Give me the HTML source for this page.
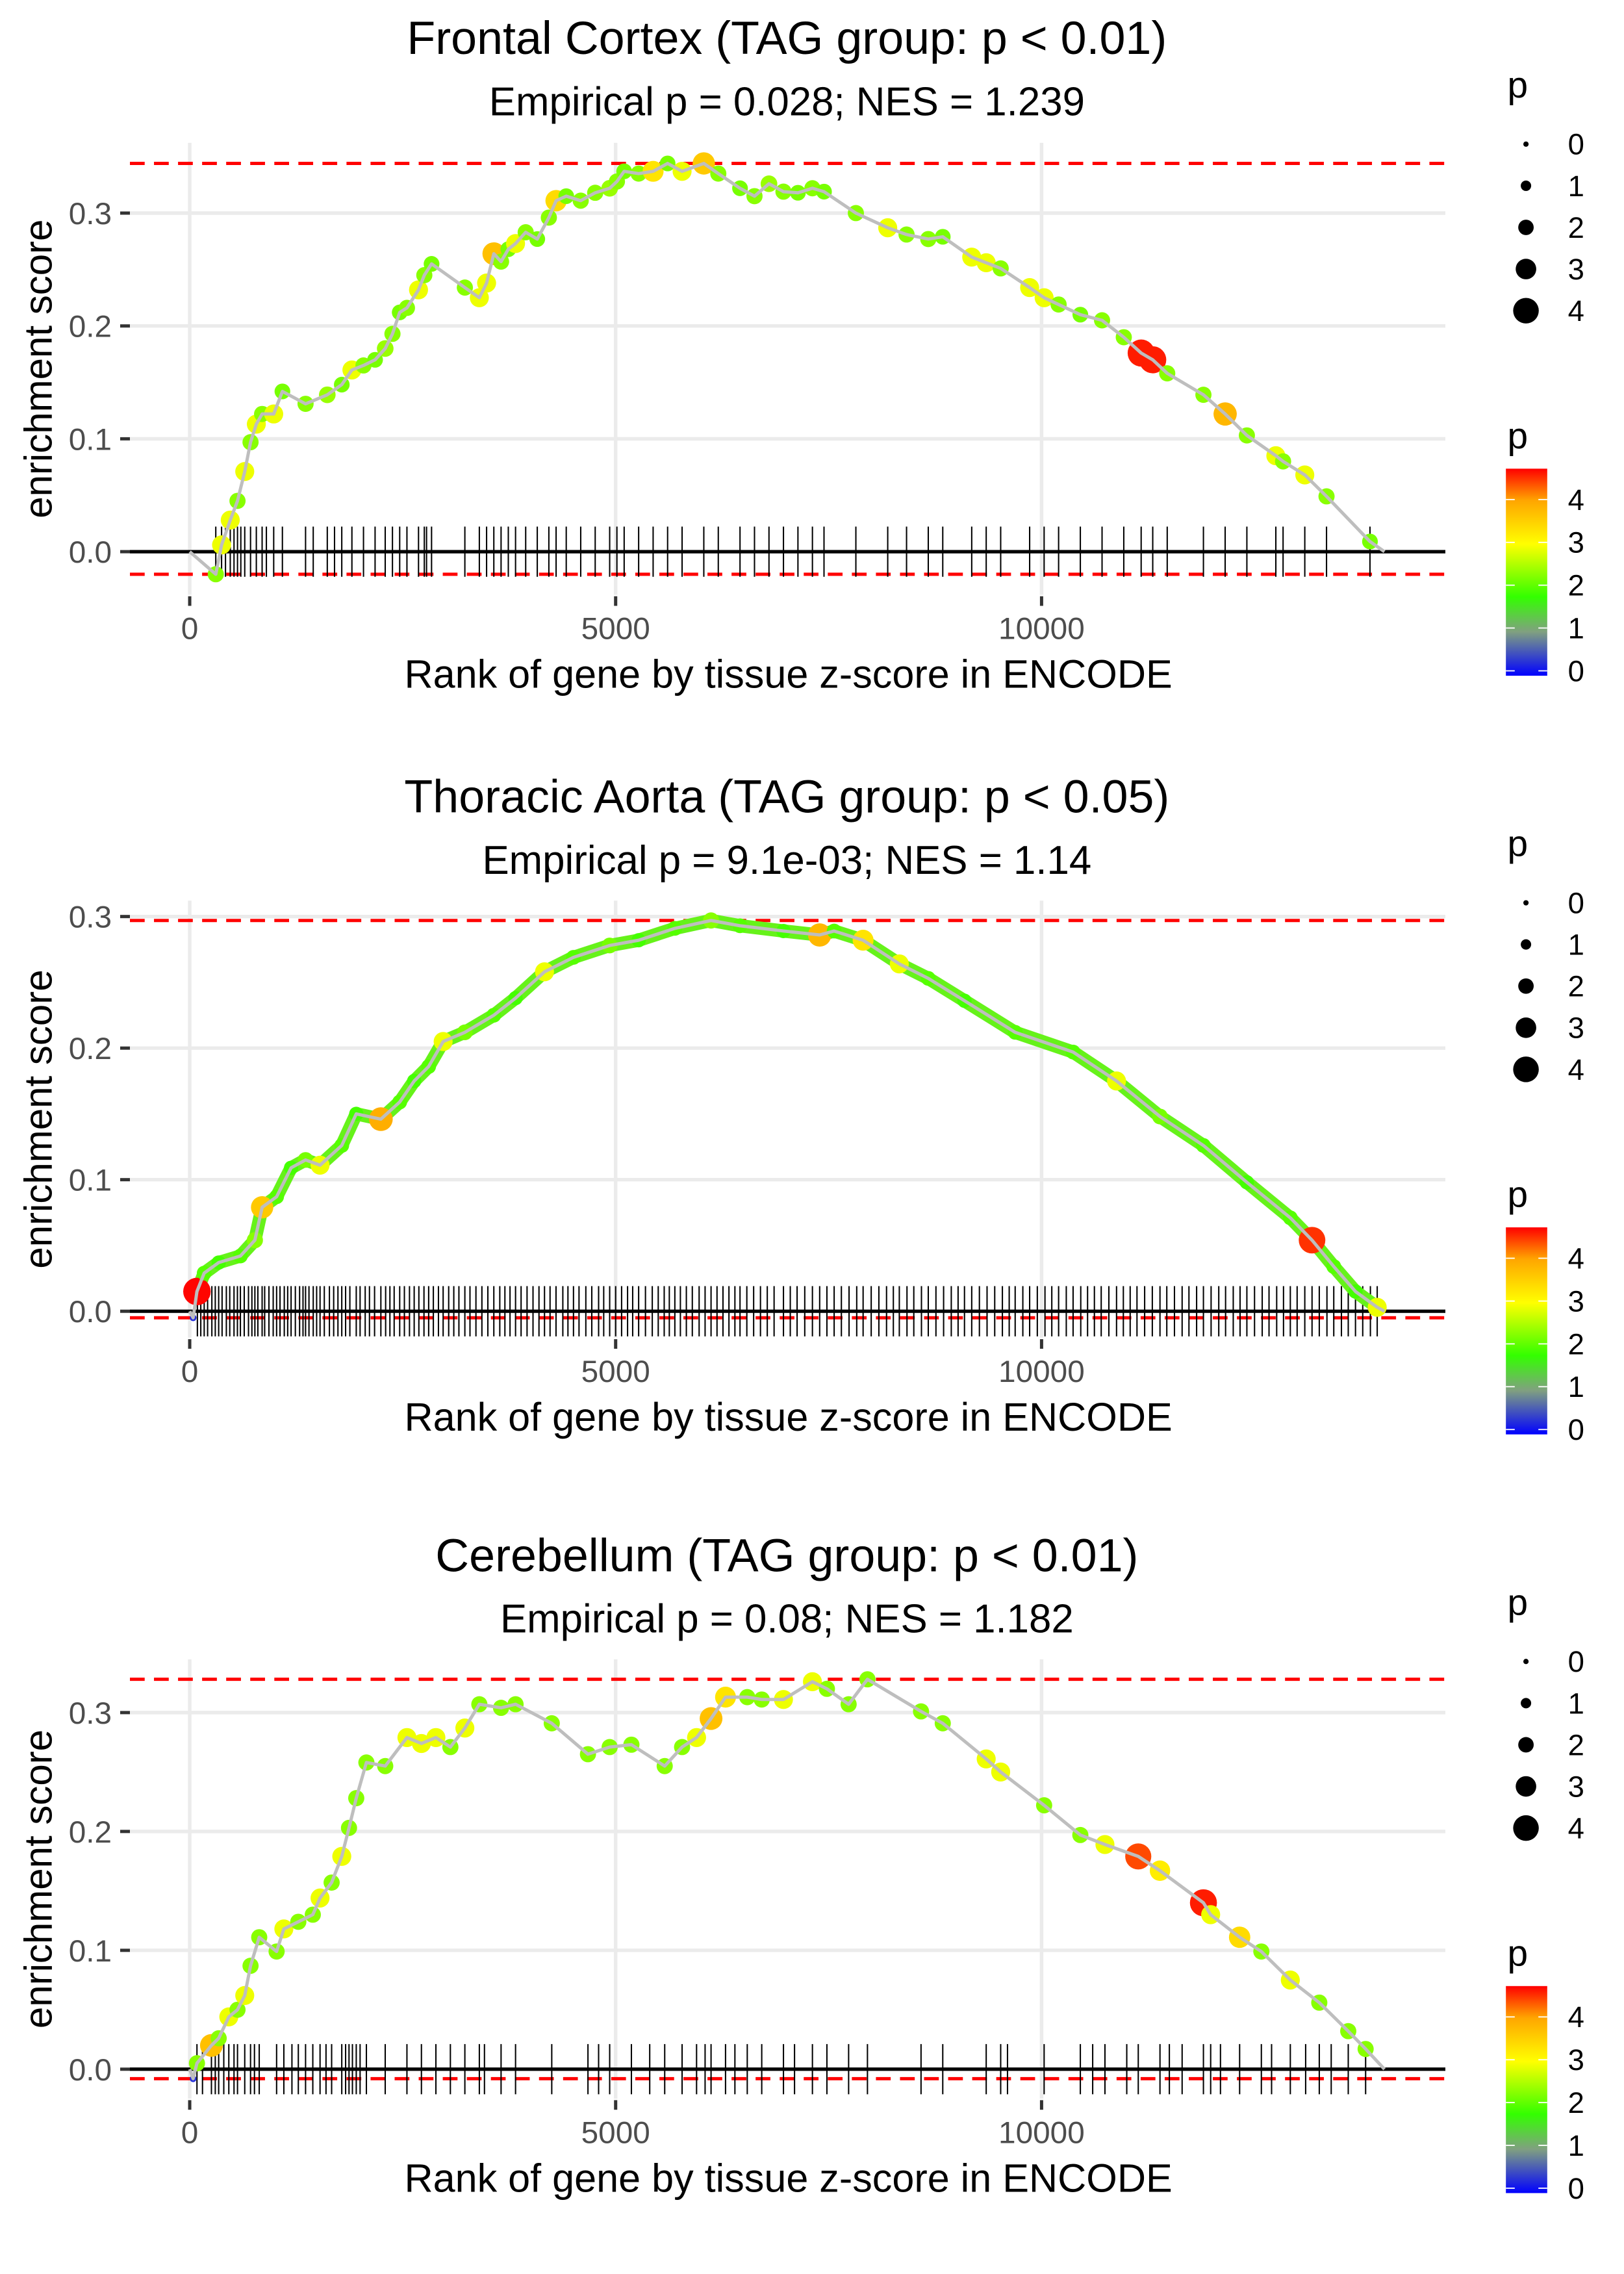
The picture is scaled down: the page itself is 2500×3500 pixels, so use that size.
<!DOCTYPE html>
<html><head><meta charset="utf-8">
<style>
html,body{margin:0;padding:0;background:#fff;}
svg{display:block;font-family:"Liberation Sans",Arial,sans-serif;}
</style></head>
<body>
<svg id="chart" width="2500" height="3500" viewBox="0 0 1100 1540" xmlns="http://www.w3.org/2000/svg"></svg>
<script>
// ---------- Panel 1: Frontal Cortex ----------
const p1Rank=[306,374,476,561,646,714,782,850,986,1088,1360,1615,1785,1904,2040,2176,2295,2380,2465,2550,2686,2754,2839,3230,3400,3485,3570,3655,3740,3825,3944,4080,4216,4301,4420,4590,4760,4930,5015,5100,5270,5440,5610,5780,6035,6205,6460,6630,6800,6970,7140,7310,7446,7820,8194,8415,8670,8840,9180,9350,9520,9860,10030,10200,10455,10710,10965,11169,11305,11475,11900,12155,12410,12750,12835,13090,13345,13855];
const p1ES=[-0.020,0.006,0.028,0.045,0.071,0.097,0.113,0.122,0.122,0.142,0.131,0.139,0.148,0.161,0.165,0.170,0.180,0.193,0.212,0.216,0.232,0.245,0.255,0.234,0.225,0.238,0.264,0.257,0.268,0.273,0.283,0.277,0.296,0.311,0.315,0.311,0.318,0.322,0.328,0.337,0.335,0.337,0.344,0.337,0.344,0.335,0.322,0.315,0.326,0.319,0.318,0.322,0.319,0.300,0.287,0.281,0.277,0.279,0.261,0.256,0.251,0.234,0.225,0.219,0.210,0.205,0.190,0.176,0.170,0.158,0.139,0.122,0.103,0.085,0.080,0.068,0.049,0.009];
const p1P=[2.3,2.9,2.9,2.3,2.9,2.3,2.9,2.3,2.9,2.2,2.3,2.4,2.2,2.9,2.3,2.2,2.4,2.3,2.2,2.3,2.9,2.3,2.2,2.3,2.9,2.9,3.7,2.3,2.2,2.9,2.3,2.2,2.3,3.4,2.2,2.3,2.3,2.4,2.3,2.2,2.3,3.3,2.2,2.9,3.6,2.3,2.2,2.3,2.4,2.3,2.2,2.3,2.2,2.3,2.9,2.3,2.3,2.2,2.9,2.9,2.3,2.9,2.9,2.3,2.2,2.3,2.3,4.6,4.6,2.3,2.3,3.8,2.3,2.9,2.3,2.9,2.3,2.2];
const p1Rug=[306,374,420,476,520,561,600,646,714,782,850,900,986,1088,1360,1450,1615,1700,1785,1904,2040,2176,2295,2380,2465,2550,2686,2754,2780,2839,3230,3400,3485,3570,3655,3740,3825,3944,4080,4216,4301,4420,4590,4760,4930,5015,5100,5270,5440,5610,5780,6035,6205,6460,6630,6800,6970,7140,7310,7446,7820,8194,8415,8670,8840,9180,9350,9520,9860,10030,10200,10455,10710,10965,11169,11305,11475,11900,12155,12410,12750,12835,13090,13345,13855];

// ---------- Panel 2: Thoracic Aorta ----------
const p2Rank=[40,85,170,340,595,765,850,1020,1190,1360,1530,1785,1955,2244,2465,2635,2805,2975,3230,3570,3825,4165,4505,4930,5270,5695,6120,6460,6970,7395,7565,7905,8330,8670,9095,9690,10370,10880,11390,11900,12410,12920,13175,13430,13685,13940];
const p2ES=[-0.005,0.015,0.029,0.037,0.042,0.054,0.079,0.087,0.109,0.115,0.111,0.126,0.150,0.146,0.159,0.175,0.186,0.205,0.212,0.225,0.238,0.258,0.269,0.278,0.282,0.291,0.297,0.293,0.289,0.286,0.289,0.282,0.264,0.253,0.236,0.212,0.197,0.175,0.148,0.126,0.098,0.071,0.054,0.034,0.015,0.003];
const p2P=[0.3,4.7,2.0,1.9,2.0,2.3,3.6,2.0,1.9,2.2,2.9,2.0,1.9,3.9,2.0,1.9,2.0,2.9,2.2,2.0,1.9,2.9,2.0,2.2,1.9,2.0,2.3,2.0,1.9,3.8,2.0,3.3,2.9,2.0,1.9,2.0,2.0,2.9,2.2,2.0,1.9,2.0,4.5,2.0,1.9,2.9];
const p2Rug=[90,130,170,210,260,300,340,380,430,470,520,560,595,640,690,730,765,800,850,880,930,980,1020,1060,1110,1150,1190,1240,1290,1330,1360,1400,1450,1490,1530,1580,1640,1690,1740,1785,1830,1880,1955,2000,2060,2110,2170,2244,2300,2350,2400,2465,2520,2580,2635,2690,2750,2805,2860,2920,2975,3040,3100,3160,3230,3290,3360,3430,3500,3570,3640,3700,3760,3825,3890,3960,4030,4100,4165,4230,4300,4380,4440,4505,4570,4650,4720,4800,4860,4930,5000,5070,5140,5200,5270,5350,5430,5500,5570,5630,5695,5760,5830,5900,5980,6050,6120,6190,6260,6330,6400,6460,6540,6620,6700,6780,6860,6970,7050,7130,7220,7310,7395,7480,7565,7650,7740,7830,7905,8000,8090,8180,8260,8330,8420,8500,8590,8670,8760,8850,8940,9020,9095,9180,9270,9360,9450,9540,9620,9690,9780,9860,9950,10040,10120,10200,10290,10370,10460,10540,10620,10700,10790,10880,10960,11040,11120,11210,11300,11390,11470,11560,11650,11730,11820,11900,11990,12080,12160,12250,12330,12410,12500,12590,12670,12760,12840,12920,13000,13090,13175,13260,13350,13430,13520,13600,13685,13770,13860,13940];

// ---------- Panel 3: Cerebellum ----------
const p3Rank=[40,85,255,340,459,561,646,714,816,1020,1105,1275,1445,1530,1666,1785,1870,1955,2074,2295,2550,2720,2890,3060,3230,3400,3655,3825,4250,4675,4930,5185,5576,5780,5950,6120,6290,6545,6715,6970,7310,7480,7735,7956,8585,8840,9350,9520,10030,10455,10744,11135,11390,11900,11985,12325,12580,12920,13260,13600,13804];
const p3ES=[-0.008,0.005,0.020,0.026,0.044,0.050,0.062,0.087,0.111,0.099,0.118,0.124,0.130,0.144,0.157,0.179,0.203,0.228,0.258,0.255,0.279,0.274,0.279,0.271,0.287,0.307,0.304,0.307,0.291,0.265,0.271,0.273,0.255,0.271,0.279,0.295,0.313,0.313,0.311,0.311,0.326,0.320,0.307,0.328,0.301,0.291,0.261,0.250,0.222,0.197,0.189,0.179,0.167,0.140,0.130,0.111,0.099,0.075,0.056,0.032,0.017];
const p3P=[0.3,2.3,3.7,2.3,2.9,2.3,2.9,2.3,2.3,2.3,2.9,2.3,2.3,2.9,2.3,2.9,2.3,2.3,2.3,2.3,2.9,2.9,2.9,2.3,2.9,2.3,2.3,2.3,2.3,2.3,2.3,2.3,2.3,2.3,2.9,3.7,3.3,2.3,2.3,2.9,2.9,2.3,2.3,2.3,2.3,2.3,2.9,2.9,2.3,2.3,2.9,4.4,3.2,4.6,2.9,3.4,2.3,2.9,2.3,2.3,2.3];
const p3Rug=[85,150,255,300,340,400,459,520,561,646,714,760,816,1020,1105,1200,1275,1360,1445,1530,1600,1666,1785,1830,1870,1910,1955,2000,2074,2295,2550,2720,2890,3060,3230,3400,3460,3655,3825,4250,4675,4800,4930,5185,5400,5576,5780,5950,6050,6120,6290,6400,6545,6715,6970,7100,7310,7480,7735,7956,8585,8840,9350,9520,9600,10030,10455,10600,10744,11000,11135,11390,11500,11650,11900,11985,12100,12325,12580,12700,12920,13100,13260,13400,13600,13804];

const xTicks=[0,5000,10000];
const xTickLabels=["0","5000","10000"];
const yTicks=[0,0.1,0.2,0.3];
const yTickLabels=["0.0","0.1","0.2","0.3"];
const sizeLegendValues=[0,1,2,3,4];
const colorLegendValues=[0,1,2,3,4];
const titles=["Frontal Cortex (TAG group: p < 0.01)","Thoracic Aorta (TAG group: p < 0.05)","Cerebellum (TAG group: p < 0.01)"];
const subtitles=["Empirical p = 0.028; NES = 1.239","Empirical p = 9.1e-03; NES = 1.14","Empirical p = 0.08; NES = 1.182"];
const N_GENES=14025;

const NS="http://www.w3.org/2000/svg";
const svg=document.getElementById('chart');
function mk(tag,attrs,parent){const e=document.createElementNS(NS,tag);for(const k in attrs)e.setAttribute(k,attrs[k]);(parent||svg).appendChild(e);return e;}
const X=r=>128.5+r*0.0577;
const PLOT_L=88, PLOT_R=979;
const stops=[[0,[0,0,255]],[1,[128,160,128]],[1.8,[51,255,0]],[3,[255,255,0]],[4,[255,165,0]],[4.72,[255,0,0]]];
function col(p){
  if(p<=stops[0][0])return 'rgb(0,0,255)';
  for(let i=1;i<stops.length;i++){if(p<=stops[i][0]){const a=stops[i-1],b=stops[i];const t=(p-a[0])/(b[0]-a[0]);const c=a[1].map((v,j)=>Math.round(v+(b[1][j]-v)*t));return 'rgb('+c.join(',')+')';}}
  return 'rgb(255,0,0)';
}
const rad=p=>1.8+p*1.6;

const grad=mk('defs',{});
const lg=mk('linearGradient',{id:'cbar',x1:0,y1:1,x2:0,y2:0},grad);
stops.forEach(s=>{mk('stop',{offset:(s[0]/4.72).toFixed(3),'stop-color':'rgb('+s[1].join(',')+')'},lg);});

const panels=[
 {ranks:p1Rank,es:p1ES,p:p1P,rug:p1Rug,zero:373.6,unit:764.3,band:false},
 {ranks:p2Rank,es:p2ES,p:p2P,rug:p2Rug,zero:888.0,unit:891.0,band:true},
 {ranks:p3Rank,es:p3ES,p:p3P,rug:p3Rug,zero:1401.3,unit:805.0,band:false}
];

panels.forEach((pn,k)=>{
  const off=k*513.8;
  const Y=v=>pn.zero-v*pn.unit;
  const g=mk('g',{});
  
  
  const t=mk('text',{x:533,y:36.5+off,'font-size':31.6,'text-anchor':'middle',fill:'#000'},g);
  t.textContent=titles[k];
  
  
  const st=mk('text',{x:533,y:78+off,'font-size':27.2,'text-anchor':'middle',fill:'#000'},g);
  st.textContent=subtitles[k];
  
  
  const maxES=Math.max(...pn.es), minES=Math.min(0,...pn.es);
  const span=maxES-minES;
  const plotTop=Y(maxES+span*0.05), plotBot=Y(minES-span*0.05);
  yTicks.forEach((v,i)=>{
    const yy=Y(v);
    const gl=mk('line',{x1:PLOT_L,x2:PLOT_R,y1:yy,y2:yy,stroke:'#ebebeb','stroke-width':2.4},g);
    
    
    mk('line',{x1:81.4,x2:88,y1:yy,y2:yy,stroke:'#333','stroke-width':2.2},g);
    const tl=mk('text',{x:75.7,y:yy+7.5,'font-size':21,'text-anchor':'end',fill:'#4d4d4d'},g);
    tl.textContent=yTickLabels[i];
    
    
  });
  xTicks.forEach((v,i)=>{
    const xx=X(v);
    const gl=mk('line',{x1:xx,x2:xx,y1:plotTop,y2:plotBot,stroke:'#ebebeb','stroke-width':2.4},g);
    
    
    mk('line',{x1:xx,x2:xx,y1:plotBot+1,y2:plotBot+7.5,stroke:'#333','stroke-width':2.2},g);
    const tl=mk('text',{x:xx,y:plotBot+30,'font-size':21,'text-anchor':'middle',fill:'#4d4d4d'},g);
    tl.textContent=xTickLabels[i];
    
    
  });
  const xt=mk('text',{x:534,y:plotBot+63,'font-size':26.9,'text-anchor':'middle',fill:'#000'},g);
  xt.textContent='Rank of gene by tissue z-score in ENCODE';
  
  
  const cy=(plotTop+plotBot)/2;
  const yt=mk('text',{x:0,y:0,'font-size':26.4,'text-anchor':'middle',fill:'#000',transform:'translate(35,'+cy+') rotate(-90)'},g);
  yt.textContent='enrichment score';
  
  
  [maxES,minES].forEach(v=>{
    const l=mk('line',{x1:PLOT_L,x2:PLOT_R,y1:Y(v),y2:Y(v),stroke:'#ff0000','stroke-width':2.2,'stroke-dasharray':'10,6.3'},g);
    
    
  });
  const zl=mk('line',{x1:PLOT_L,x2:PLOT_R,y1:Y(0),y2:Y(0),stroke:'#000','stroke-width':2.3},g);
  
  
  pn.rug.forEach(r=>{
    const l=mk('line',{x1:X(r),x2:X(r),y1:Y(0)-17,y2:Y(0)+17,stroke:'#000','stroke-width':0.9},g);
    
    
  });
  let d='M'+X(0)+','+Y(0);
  pn.ranks.forEach((r,i)=>{d+=' L'+X(r).toFixed(2)+','+Y(pn.es[i]).toFixed(2);});
  d+=' L'+X(N_GENES)+','+Y(0);
  if(pn.band){
    let bd='M'+X(pn.ranks[1]).toFixed(2)+','+Y(pn.es[1]).toFixed(2);
    pn.ranks.forEach((r,i)=>{if(i>1)bd+=' L'+X(r).toFixed(2)+','+Y(pn.es[i]).toFixed(2);});
    const b=mk('path',{d:bd,fill:'none',stroke:'#66f21a','stroke-width':9,'stroke-linejoin':'round','stroke-linecap':'round'},g);
    
    
  }
  pn.ranks.forEach((r,i)=>{
    const c=mk('circle',{cx:X(r),cy:Y(pn.es[i]),r:rad(pn.p[i]),fill:col(pn.p[i])},g);
    
    
  });
  const path=mk('path',{d:d,fill:'none',stroke:'#bebebe','stroke-width':2.2,'stroke-linejoin':'round'},g);
  
  

  const lgd=mk('g',{},g);
  
  
  const lt=mk('text',{x:1021,y:66+off,'font-size':25,fill:'#000'},lgd);
  lt.textContent='p';
  sizeLegendValues.forEach((v,i)=>{
    const yy=97.6+i*28.2+off;
    const c=mk('circle',{cx:1033.6,cy:yy,r:1.8+v*1.72,fill:'#000'},lgd);
    
    
    const tx=mk('text',{x:1062,y:yy+7,'font-size':20,fill:'#000'},lgd);
    tx.textContent=String(v);
  });
  const cl=mk('g',{},g);
  
  
  const ct=mk('text',{x:1021,y:303.6+off,'font-size':25,fill:'#000'},cl);
  ct.textContent='p';
  const bar=mk('rect',{x:1020,y:317.4+off,width:28,height:140.2,fill:'url(#cbar)'},cl);
  
  
  colorLegendValues.forEach(v=>{
    const yy=454.3-v*29+off;
    mk('line',{x1:1020,x2:1026,y1:yy,y2:yy,stroke:'#fff','stroke-width':0.8},cl);
    mk('line',{x1:1042,x2:1048,y1:yy,y2:yy,stroke:'#fff','stroke-width':0.8},cl);
    const tx=mk('text',{x:1062,y:yy+7,'font-size':20,fill:'#000'},cl);
    tx.textContent=String(v);
  });
});
</script>
</body></html>
